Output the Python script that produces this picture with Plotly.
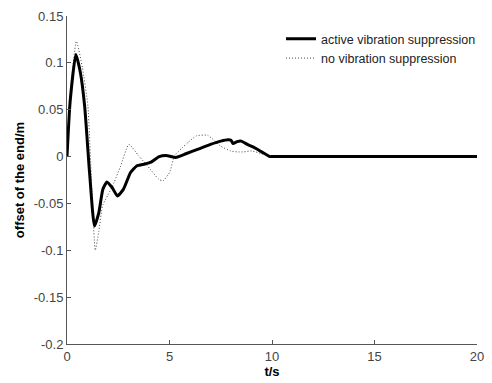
import plotly.graph_objects as go

# active vibration suppression (solid)
t_active = [0, 0.15, 0.43, 0.65, 0.86, 1.1, 1.34, 1.55, 1.75, 1.95, 2.2, 2.46, 2.75, 3.1, 3.4,
            3.8, 4.1, 4.5, 4.9, 5.3, 5.8, 6.4, 7.0, 7.5, 7.85, 8.0, 8.1, 8.3, 8.5, 8.8, 9.1,
            9.5, 9.9, 10, 20]
y_active = [0, 0.058, 0.109, 0.09, 0.054, -0.017, -0.074, -0.060, -0.035, -0.027, -0.033,
            -0.042, -0.035, -0.017, -0.010, -0.008, -0.006, 0.000, 0.001, -0.001, 0.003, 0.008,
            0.013, 0.0165, 0.018, 0.0175, 0.014, 0.016, 0.0165, 0.013, 0.010, 0.005, 0.0, 0, 0]

# no vibration suppression (dotted)
t_none = [0, 0.15, 0.46, 0.75, 1.02, 1.2, 1.38, 1.55, 1.74, 2.0, 2.3, 2.6, 3.02, 3.5, 4.06,
          4.46, 4.68, 5.0, 5.25, 5.6, 5.9, 6.3, 6.86, 7.5, 7.98, 8.3, 8.62, 9.0, 9.5, 9.9, 10, 20]
y_none = [0, 0.065, 0.123, 0.095, 0.054, -0.03, -0.100, -0.080, -0.052, -0.041, -0.0275,
          -0.011, 0.013, 0.0007, -0.0134, -0.024, -0.026, -0.017, 0.001, 0.009, 0.015, 0.022,
          0.0227, 0.011, 0.006, 0.005, 0.005, 0.006, 0.003, 0, 0, 0]

x_ticks = [0, 5, 10, 15, 20]
x_tick_labels = ["0", "5", "10", "15", "20"]
y_ticks = [0.15, 0.1, 0.05, 0, -0.05, -0.1, -0.15, -0.2]
y_tick_labels = ["0.15", "0.1", "0.05", "0", "-0.05", "-0.1", "-0.15", "-0.2"]

FONT = "Liberation Sans, Arial, sans-serif"

fig = go.Figure()
fig.add_trace(go.Scatter(x=t_none, y=y_none, mode="lines", name="no vibration suppression",
                         line=dict(color="#444444", width=1, dash="1px,2px",
                                   shape="spline", smoothing=0.5)))
fig.add_trace(go.Scatter(x=t_active, y=y_active, mode="lines", name="active vibration suppression",
                         line=dict(color="black", width=3, shape="spline", smoothing=0.5)))

axis_common = dict(showline=True, linecolor="#555555", linewidth=1, ticks="inside", ticklen=4,
                   tickcolor="#555555", showgrid=False, zeroline=False, mirror=False,
                   tickfont=dict(family=FONT, size=13, color="#444444"))

fig.update_layout(
    width=492, height=383,
    margin=dict(l=67, r=8, t=16, b=37),
    paper_bgcolor="white", plot_bgcolor="white",
    showlegend=True,
    legend=dict(x=0.522, y=0.975, xanchor="left", yanchor="top", traceorder="reversed",
                bgcolor="rgba(0,0,0,0)", borderwidth=0,
                font=dict(family=FONT, size=12.5, color="#222222"), itemwidth=30,
                tracegroupgap=0),
    xaxis=dict(range=[0, 20], tickvals=x_ticks, ticktext=x_tick_labels,
               title=dict(text="<b>t/s</b>", font=dict(family=FONT, size=13, color="black"),
                          standoff=2),
               **axis_common),
    yaxis=dict(range=[-0.2, 0.15], tickvals=y_ticks, ticktext=y_tick_labels,
               title=dict(text="<b>offset of the end/m</b>", font=dict(family=FONT, size=13, color="black"),
                          standoff=6),
               **axis_common),
)

fig.write_html("out.html")
